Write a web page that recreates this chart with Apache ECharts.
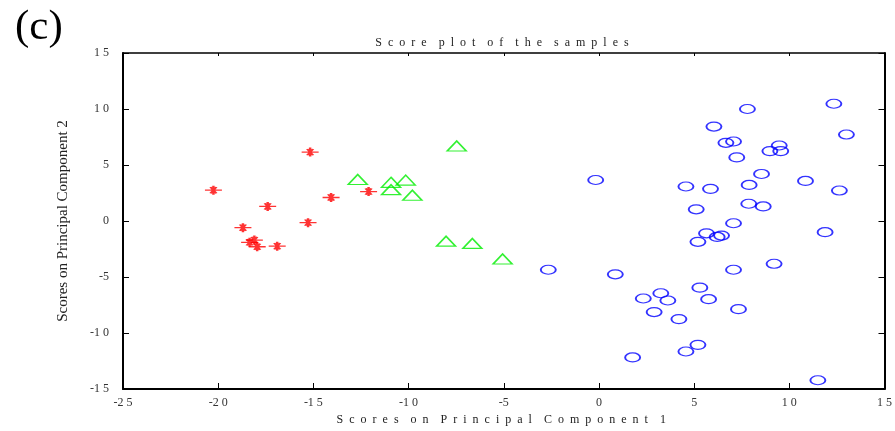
<!DOCTYPE html>
<html><head><meta charset="utf-8">
<script src="https://cdn.jsdelivr.net/npm/echarts@6/dist/echarts.min.js"></script>
<style>html,body{margin:0;padding:0;background:#fff}#c{width:895px;height:431px}</style>
</head><body><div id="c"></div>
<script>
var titleText = 'Score plot of the samples';
var xName = 'Scores on Principal Component 1';
var yName = 'Scores on Principal Component 2';
var panelLabel = '(c)';
var xTicks = [-25, -20, -15, -10, -5, 0, 5, 10, 15];
var yTicks = [-15, -10, -5, 0, 5, 10, 15];

var redStars = [
  [-20.25, 2.75], [-15.17, 6.15], [-17.4, 1.3], [-14.07, 2.1], [-12.1, 2.63],
  [-18.7, -0.6], [-15.28, -0.15], [-18.35, -1.9], [-18.1, -1.7], [-17.95, -2.3],
  [-16.9, -2.25]
];
var greenTriangles = [
  [-12.67, 3.7], [-10.92, 3.45], [-10.92, 2.8], [-10.15, 3.65], [-9.8, 2.3],
  [-7.47, 6.7], [-8.03, -1.8], [-6.65, -2.0], [-5.06, -3.4]
];
var blueCircles = [
  [-0.17, 3.66], [-2.66, -4.35], [0.86, -4.76],
  [7.8, 10.0], [12.34, 10.47], [6.04, 8.43], [13.0, 7.72], [6.67, 6.98], [7.07, 7.1],
  [9.47, 6.74], [8.98, 6.24], [9.55, 6.24], [7.24, 5.68], [8.54, 4.2], [10.85, 3.58],
  [4.57, 3.08], [5.86, 2.87], [7.89, 3.22], [12.63, 2.72], [7.87, 1.54], [8.63, 1.3],
  [5.11, 1.04], [7.07, -0.2], [5.65, -1.1], [6.21, -1.42], [6.44, -1.3], [5.2, -1.86],
  [11.88, -1.0], [9.2, -3.82], [7.07, -4.35],
  [5.3, -5.95], [3.25, -6.45], [2.33, -6.92], [3.62, -7.1], [5.76, -6.98], [7.33, -7.87],
  [2.9, -8.13], [4.2, -8.76], [5.2, -11.06], [4.57, -11.65], [1.77, -12.18], [11.5, -14.22]
];

// visual letter spacing as in the reference (spaced-out glyphs)
function spaced(str, gap){ return str.split(' ').map(function(w){ return w.split('').join(gap); }).join(gap + gap); }
function fmt(v){ var s = String(Math.abs(v)).split('').join(' '); return (v < 0 ? '-' : '') + s; }
var font = '"Liberation Serif", "DejaVu Serif", serif';
var labelStyle = { fontFamily: font, fontSize: 12, color: '#333' };

var chart = echarts.init(document.getElementById('c'), null, { renderer: 'canvas' });
var starPath = 'path://M-8,0L8,0M0,-4L0,4M-2.8,-2.8L2.8,2.8M-2.8,2.8L2.8,-2.8';
var EN = '\u2002';

chart.setOption({
  animation: false,
  backgroundColor: '#fff',
  title: { text: spaced(titleText, EN), left: 497, top: 32, textAlign: 'center',
    textStyle: { fontFamily: font, fontSize: 12, fontWeight: 'normal', color: '#222' } },
  graphic: [{ type: 'text', left: 15, top: 6,
    style: { text: panelLabel, font: '43px "Liberation Serif", serif', fill: '#000' } }],
  grid: { left: 123, right: 9, top: 53, bottom: 40, show: false },
  xAxis: [{
    type: 'value', min: xTicks[0], max: xTicks[xTicks.length - 1], interval: 5,
    name: spaced(xName, EN), nameLocation: 'middle', nameGap: 25,
    nameTextStyle: { fontFamily: font, fontSize: 12, color: '#222', padding: [0, 5, 0, 0] },
    axisLine: { show: true, onZero: false, lineStyle: { color: '#000', width: 2 } },
    axisTick: { show: true, inside: true, length: 6, lineStyle: { color: '#000' } },
    axisLabel: Object.assign({ formatter: fmt, margin: 8 }, labelStyle),
    splitLine: { show: false }
  }, {
    type: 'value', position: 'top', min: xTicks[0], max: xTicks[xTicks.length - 1], interval: 5,
    axisLine: { show: true, onZero: false, lineStyle: { color: '#000', width: 1.5 } },
    axisTick: { show: true, inside: true, length: 3, lineStyle: { color: '#000' } },
    axisLabel: { show: false }, splitLine: { show: false }
  }],
  yAxis: [{
    type: 'value', min: yTicks[0], max: yTicks[yTicks.length - 1], interval: 5,
    name: yName, nameLocation: 'middle', nameGap: 52,
    nameTextStyle: { fontFamily: font, fontSize: 15, color: '#222' },
    axisLine: { show: true, onZero: false, lineStyle: { color: '#000', width: 2 } },
    axisTick: { show: true, inside: true, length: 6, lineStyle: { color: '#000' } },
    axisLabel: Object.assign({ formatter: fmt, margin: 14 }, labelStyle),
    splitLine: { show: false }
  }, {
    type: 'value', position: 'right', min: yTicks[0], max: yTicks[yTicks.length - 1], interval: 5,
    axisLine: { show: true, onZero: false, lineStyle: { color: '#000', width: 2 } },
    axisTick: { show: true, inside: true, length: 6, lineStyle: { color: '#000' } },
    axisLabel: { show: false }, splitLine: { show: false }
  }],
  series: [{
    type: 'scatter', data: redStars, symbol: starPath, symbolSize: [17, 9],
    itemStyle: { color: 'rgba(0,0,0,0)', borderColor: '#ff0000', borderWidth: 1.8 }
  }, {
    type: 'scatter', data: greenTriangles, symbol: 'triangle', symbolSize: [19, 10],
    itemStyle: { color: 'rgba(0,0,0,0)', borderColor: '#00ee00', borderWidth: 1.5 }
  }, {
    type: 'scatter', data: blueCircles, symbol: 'circle', symbolSize: [15, 9],
    itemStyle: { color: 'rgba(0,0,0,0)', borderColor: '#0000ff', borderWidth: 1.5 }
  }]
});
</script></body></html>
